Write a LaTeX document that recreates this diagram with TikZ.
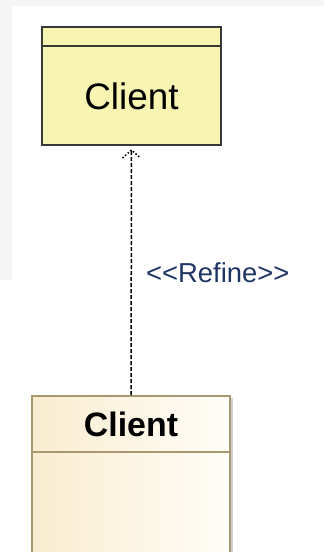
\documentclass[tikz,border=0pt]{standalone}
\usepackage{fontspec}
\setmainfont{Liberation Sans}
\usetikzlibrary{calc}
\definecolor{bggray}{HTML}{F5F5F5}
\definecolor{topfill}{HTML}{F8F4B2}
\definecolor{topline}{HTML}{383838}
\definecolor{botline}{HTML}{A89870}
\definecolor{botleft}{HTML}{F9EDCF}
\definecolor{botright}{HTML}{FFFDF8}
\definecolor{lblcol}{HTML}{1E3566}
\tikzset{
  topbox/.style={draw=topline, line width=2bp, fill=topfill, rectangle, minimum width=179bp, minimum height=118bp, inner sep=0},
  botbox/.style={draw=botline, line width=1.8bp, left color=botleft, right color=botright, rectangle, minimum width=198bp, minimum height=210bp, inner sep=0},
  toplabel/.style={font=\fontsize{37}{40}\selectfont, text=black, inner sep=0},
  botlabel/.style={font=\fontsize{34}{38}\selectfont\bfseries, text=black, inner sep=0},
  reflabel/.style={font=\fontsize{27.5}{30}\selectfont, text=lblcol, inner sep=0, anchor=west},
  dep/.style={dashed, dash pattern=on 4bp off 2bp, line width=1.5bp, black},
  headtip/.style={dotted, line width=1.5bp, black}
}
\begin{document}
\begin{tikzpicture}[x=1bp, y=-1bp]
\useasboundingbox (0,0) rectangle (324,552);
\clip (0,0) rectangle (324,552);
\fill[white] (0,0) rectangle (324,552);
\fill[bggray] (0,0) rectangle (324,6);
\fill[bggray] (0,0) rectangle (12,280);
% top class
\node[topbox] (top) at (131.5,86) {};
\draw[topline, line width=2bp] (42,46.5) -- (221,46.5);
\node[toplabel] (toptext) at (131.5,96) {Client};
% bottom class
\fill[black!18] (231,398) rectangle (233,560);
\node[botbox] (bot) at (131,501) {};
\draw[botline, line width=1.8bp] (32,452) -- (230,452);
\node[botlabel] (bottext) at (131,424) {Client};
% refine dependency
\coordinate (tip) at ($(top.south)+(0,4)$);
\draw[dep] (bot.north) -- (tip);
\draw[headtip] ($(tip)+(-9,8)$) -- (tip) -- ($(tip)+(9,8)$);
\node[reflabel] (ref) at (146,273) {<{}<Refine>{}>};
\end{tikzpicture}
\end{document}
